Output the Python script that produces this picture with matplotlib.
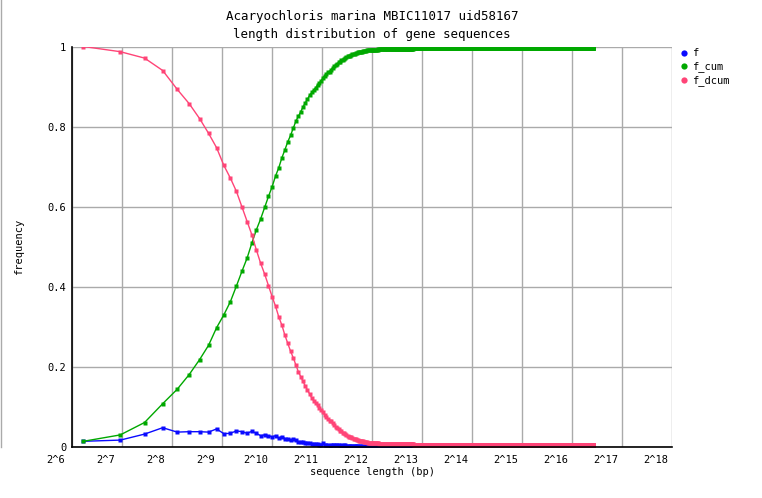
import numpy as np
import matplotlib
matplotlib.use("Agg")
import matplotlib.pyplot as plt
import matplotlib.transforms as mtransforms
from matplotlib.lines import Line2D

# length bins (bp), 50 bp wide, first centre at 75 bp
first_bin = 75
bin_width = 50
last_bin = 87575

# fraction of genes per bin, read from the blue / green curves (75 .. 4175 bp)
f_head = [0.013, 0.016, 0.031, 0.047, 0.036, 0.037, 0.037, 0.036, 0.044, 0.032,
          0.033, 0.039, 0.037, 0.033, 0.038, 0.033, 0.027, 0.029, 0.027, 0.024,
          0.027, 0.021, 0.025, 0.020, 0.020, 0.016, 0.018, 0.017,
          0.012, 0.012, 0.012, 0.010, 0.010, 0.009, 0.007, 0.006, 0.006, 0.007,
          0.005, 0.005, 0.008, 0.005, 0.005, 0.003, 0.002, 0.005, 0.005, 0.004,
          0.003, 0.003, 0.003, 0.002, 0.003, 0.001, 0.003, 0.003, 0.001, 0.002,
          0.001, 0.001, 0.001, 0.002, 0.001, 0.001, 0.001, 0.001, 0.001, 0.000,
          0.001, 0.001, 0.000, 0.001, 0.000, 0.001, 0.000, 0.001, 0.000, 0.000,
          0.001, 0.000, 0.000, 0.001, 0.000]
# sparse long-gene tail
tail_bins = [4475, 4875, 5275, 5875, 6475, 7275, 8475, 10275, 87575]
tail_f = [0.0005, 0.0005, 0.0005, 0.0005, 0.0005, 0.0005, 0.0005, 0.0005, 0.004]

xtick_labels = ["2^%d" % k for k in range(6, 19)]
title = "Acaryochloris marina MBIC11017 uid58167\nlength distribution of gene sequences"

bins = np.arange(first_bin, last_bin + 1, bin_width)
f = np.zeros(len(bins))
f[:len(f_head)] = f_head
for b, v in zip(tail_bins, tail_f):
    f[(b - first_bin) // bin_width] = v
f_cum = np.cumsum(f)
f_dcum = 1.0 - f_cum + f

mono = "DejaVu Sans Mono"
plt.rcParams["font.family"] = mono

fig = plt.figure(figsize=(7.62, 4.98), dpi=100)
ax = fig.add_axes([72 / 762, 1 - 446.5 / 498, 600 / 762, 400 / 498])

c_f, c_cum, c_dcum = "#0a0aff", "#00a800", "#ff4477"
ms = 2.4
ax.plot(bins, f, color=c_f, lw=1, marker="s", ms=ms, mec="none", zorder=3)
ax.plot(bins, f_cum, color=c_cum, lw=1, marker="s", ms=ms, mec="none", zorder=3)
ax.plot(bins, f_dcum, color=c_dcum, lw=1, marker="s", ms=ms, mec="none", zorder=3)

ax.set_xscale("log", base=2)
ax.set_xlim(2 ** 6, 2 ** 18)
ax.set_ylim(0, 1)
ax.set_xticks([2 ** k for k in range(6, 19)])
ax.set_xticklabels(xtick_labels)
ax.xaxis.set_minor_locator(matplotlib.ticker.NullLocator())
ax.set_yticks([0, 0.2, 0.4, 0.6, 0.8, 1.0])
ax.set_yticklabels(["0", "0.2", "0.4", "0.6", "0.8", "1"])
ax.tick_params(length=0, labelsize=7.5, pad=4)
ax.tick_params(axis="x", pad=6)
off = mtransforms.ScaledTranslation(-16 / 100, 0, fig.dpi_scale_trans)
for lab in ax.get_xticklabels():
    lab.set_transform(lab.get_transform() + off)

ax.grid(True, color="#aaaaaa", lw=1)
ax.set_axisbelow(True)
for s in ["top", "right"]:
    ax.spines[s].set_visible(False)
for s in ["left", "bottom"]:
    ax.spines[s].set_color("black")
    ax.spines[s].set_linewidth(1.2)
    ax.spines[s].set_zorder(4)

ax.set_xlabel("sequence length (bp)", fontsize=7.5)
ax.xaxis.set_label_coords(0.5, -0.052)
ax.set_ylabel("frequency", fontsize=7.5)
ax.yaxis.set_label_coords(-0.08, 0.5)
ax.set_title(title, fontsize=9, linespacing=1.5, pad=6)

handles = [Line2D([], [], color=c, marker="o", ls="none", ms=4.5, mec="none")
           for c in (c_f, c_cum, c_dcum)]
fig.legend(handles, ["f", "f_cum", "f_dcum"], loc="upper left",
           bbox_to_anchor=(668 / 762, 1 - 39 / 498), frameon=False,
           fontsize=7.5, handletextpad=0.2, labelspacing=0.3, handlelength=1.2)

fig.add_artist(Line2D([0.5 / 762, 0.5 / 762], [1 - 447 / 498, 1], color="#aaaaaa", lw=1))

fig.savefig("out.png", dpi=100)
